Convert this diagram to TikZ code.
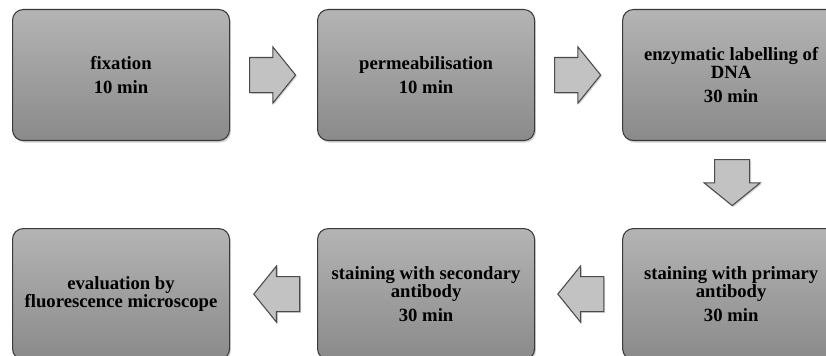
\documentclass[tikz,border=0pt]{standalone}
\usepackage{fontspec}
\setmainfont{Liberation Serif}
\usetikzlibrary{positioning,shapes.arrows,shadows,calc}
\definecolor{stagetop}{HTML}{B4B4B4}
\definecolor{stagebottom}{HTML}{8A8A8A}
\definecolor{stageedge}{HTML}{3A3A3A}
\definecolor{flowfill}{HTML}{C2C2C2}
\definecolor{flowedge}{HTML}{4A4A4A}

\begin{document}
\begin{tikzpicture}[
          node distance=65.25pt and 65.25pt,
          stage/.style={draw=stageedge, line width=0.8pt, rounded corners=8pt,
                        top color=stagetop, bottom color=stagebottom,
                        minimum width=162.75pt, minimum height=98.25pt,
                        align=center, text=black,
                        font=\bfseries\fontsize{14}{13.5}\selectfont,
                        drop shadow={opacity=0.35, shadow xshift=1pt, shadow yshift=-1.5pt}},
          flow/.style={single arrow, draw=flowedge, fill=flowfill, line width=0.8pt,
                       minimum height=34.5pt, inner xsep=0pt, inner ysep=12.75pt,
                       single arrow head extend=7.9pt, single arrow tip angle=102,
                       drop shadow={opacity=0.35, shadow xshift=1pt, shadow yshift=-1pt}},
          flowdown/.style={flow, shape border rotate=270, inner xsep=12.75pt, inner ysep=0pt},
          flowleft/.style={flow, shape border rotate=180}
        ]
        \useasboundingbox (0,0) rectangle (619.5pt,-267pt);
        \node[stage, anchor=north west] (fix) at (9pt,-6.75pt) {fixation\\[4.5pt]10 min};
        \node[stage, right=of fix] (perm) {permeabilisation\\[4.5pt]10 min};
        \node[stage, right=of perm] (label) {enzymatic labelling of\\DNA\\[4.5pt]30 min};
        \node[stage, below=of label] (prim) {staining with primary\\antibody\\[4.5pt]30 min};
        \node[stage, left=of prim] (sec) {staining with secondary\\antibody\\[4.5pt]30 min};
        \node[stage, left=of sec] (eval) {evaluation by\\fluorescence microscope};
        \node[flow, anchor=tail] (a1) at ($(fix.east)+(14.25pt,0)$) {};
        \node[flow, anchor=tail] (a2) at ($(perm.east)+(14.25pt,0)$) {};
        \node[flowdown, anchor=tail] (a3) at ($(label.south)+(0.75pt,-13.5pt)$) {};
        \node[flowleft, anchor=tip] (a4) at ($(prim.west)+(-48.75pt,0)$) {};
        \node[flowleft, anchor=tip] (a5) at ($(eval.east)+(17.25pt,0)$) {};
      \end{tikzpicture}
\end{document}
